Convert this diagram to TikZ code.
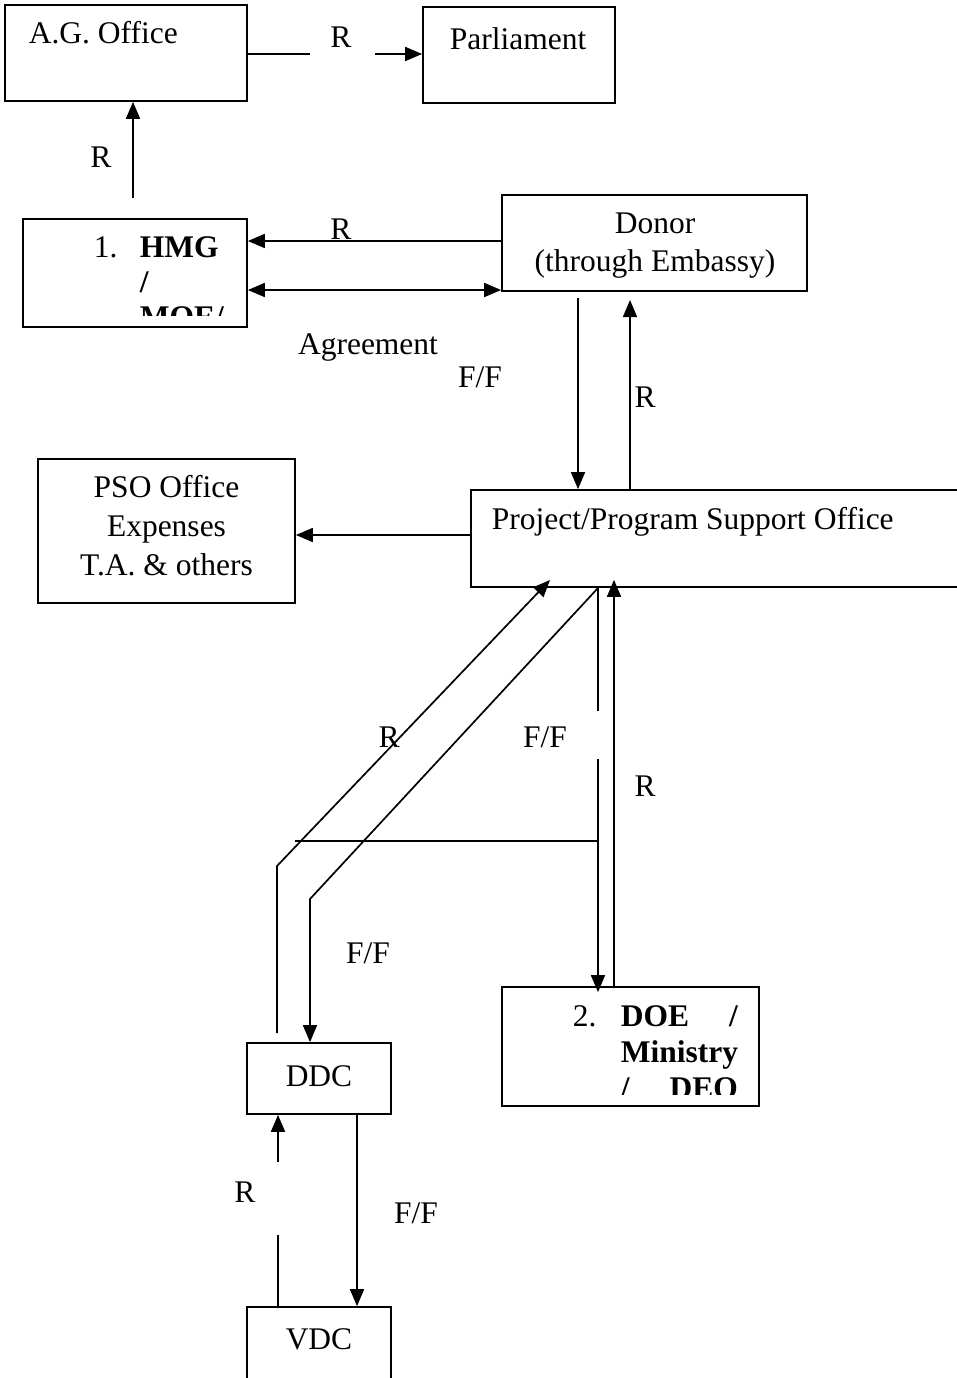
\documentclass[tikz,border=0pt]{standalone}
\usepackage{fontspec}
\setmainfont{Liberation Serif}
\usetikzlibrary{arrows.meta}

\begin{document}
\begin{tikzpicture}[x=1pt,y=-1pt, line width=1.7pt,
        flow/.style={-{Triangle[length=17pt,width=14pt]}},
        flowboth/.style={{Triangle[length=17pt,width=14pt]}-{Triangle[length=17pt,width=14pt]}}]
      \tikzstyle{box} = [draw,rectangle,inner sep=0pt]
      \tikzstyle{txt} = [font=\fontsize{31.5}{38}\selectfont,inner sep=0pt,color=black]
      \useasboundingbox (0,0) rectangle (956,1378);
      % boxes
      \node (ag) [box,minimum width=242,minimum height=96] at (126,53) {};
      \node (parl) [box,minimum width=192,minimum height=96] at (519,55) {};
      \node (hmg) [box,minimum width=224,minimum height=108] at (135,273) {};
      \node (donor) [box,minimum width=305,minimum height=96] at (654.5,243) {};
      \node (psooff) [box,minimum width=257,minimum height=144] at (166.5,531) {};
      \node (pso) [box,minimum width=499,minimum height=97] at (720.5,538.5) {};
      \node (doe) [box,minimum width=257,minimum height=119] at (630.5,1046.5) {};
      \node (ddc) [box,minimum width=144,minimum height=71] at (319,1078.5) {};
      \node (vdc) [box,minimum width=144,minimum height=93] at (319,1353.5) {};
      % box texts (base = last line)
      \node (agT) [txt,anchor=base west] at (28,44) {A.G. Office};
      \node (parlT) [txt,anchor=base] at (518,50) {Parliament};
      \node (donorT) [txt,anchor=base,align=center] at (655,271) {Donor\\(through Embassy)};
      \node (psooffT) [txt,anchor=base,align=center,font=\fontsize{31.5}{39}\selectfont] at (166.5,575) {PSO Office\\Expenses\\T.A. \& others};
      \node (psoT) [txt,anchor=base west] at (491,529) {Project/Program Support Office};
      \node (ddcT) [txt,anchor=base] at (319,1086) {DDC};
      \node (vdcT) [txt,anchor=base] at (319,1349) {VDC};
      \begin{scope}
        \clip (23,219) rectangle (247,315);
        \node (hmgN) [txt,anchor=base west] at (93,257) {1.};
        \node (hmgT) [txt,anchor=base west,align=left,font=\fontsize{31.5}{35}\selectfont\bfseries] at (139,327) {HMG\\/\\MOE/};
      \end{scope}
      \begin{scope}
        \clip (502,987) rectangle (759,1094);
        \node (doeN) [txt,anchor=base west] at (572,1026) {2.};
        \node (doeT) [txt,anchor=base west,align=left,font=\fontsize{31.5}{36}\selectfont\bfseries] at (620,1098)
          {\makebox[117pt][l]{DOE\hfill/}\\Ministry\\\makebox[117pt][l]{/\hfill DEO}};
      \end{scope}
      % free ends and bends
      \coordinate (agR) at (310,54);
      \coordinate (parlR) at (375,54);
      \coordinate (hmgUp) at (133,198);
      \coordinate (donorDn) at (578,298);
      \coordinate (donorUp) at (630,300);
      \coordinate (ddcUp) at (277,1033);
      \coordinate (ddcBend) at (277,866);
      \coordinate (psoR) at (550,580);
      \coordinate (psoFF) at (598,588);
      \coordinate (ddcBendFF) at (310,899);
      \coordinate (ffGapTop) at (598,711);
      \coordinate (ffGapBot) at (598,759);
      \coordinate (crossL) at (295,841);
      \coordinate (vdcGapTop) at (278,1162);
      \coordinate (vdcGapBot) at (278,1235);
      % connectors
      \draw (ag.east |- agR) -- (agR);
      \draw[flow] (parlR) -- (parl.west |- parlR);
      \draw[flow] (hmgUp) -- (ag.south -| hmgUp);
      \draw[flow] (donor.west |- 0,241) -- (hmg.east |- 0,241);
      \draw[flowboth] (hmg.east |- 0,290) -- (donor.west |- 0,290);
      \draw[flow] (donorDn) -- (pso.north -| donorDn);
      \draw[flow] (pso.north -| donorUp) -- (donorUp);
      \draw[flow] (pso.west |- 0,535) -- (psooff.east |- 0,535);
      \draw[flow] (ddcUp) -- (ddcBend) -- (psoR);
      \draw[flow] (psoFF) -- (ddcBendFF) -- (ddc.north -| ddcBendFF);
      \draw (psoFF) -- (ffGapTop);
      \draw[flow] (ffGapBot) -- ([yshift=-6pt]doe.north -| ffGapBot);
      \draw[flow] (doe.north -| 614,0) -- ([yshift=8pt]pso.south -| 614,0);
      \draw (crossL) -- (crossL -| psoFF);
      \draw[flow] (ddc.south -| 357,0) -- (vdc.north -| 357,0);
      \draw (vdc.north -| vdcGapBot) -- (vdcGapBot);
      \draw[flow] (vdcGapTop) -- (ddc.south -| vdcGapTop);
      % labels
      \node (lR1) [txt] at (341,37) {R};
      \node (lR2) [txt] at (101,157) {R};
      \node (lR3) [txt] at (341,229) {R};
      \node (lAgr) [txt] at (368,347) {Agreement};
      \node (lFF1) [txt] at (480,377) {F/F};
      \node (lR4) [txt] at (645,397) {R};
      \node (lR5) [txt] at (389,737) {R};
      \node (lFF2) [txt] at (545,737) {F/F};
      \node (lR6) [txt] at (645,786) {R};
      \node (lFF3) [txt] at (368,953) {F/F};
      \node (lR7) [txt] at (245,1192) {R};
      \node (lFF4) [txt] at (416,1213) {F/F};
    \end{tikzpicture}
\end{document}
